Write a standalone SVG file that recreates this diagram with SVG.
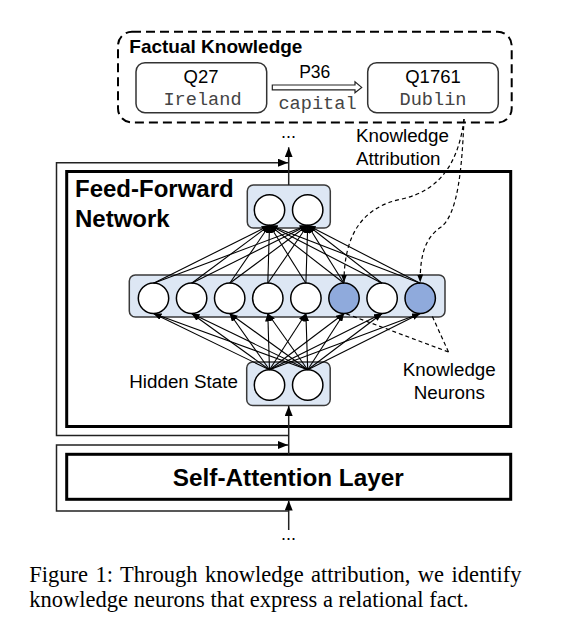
<svg xmlns="http://www.w3.org/2000/svg" width="584" height="637" viewBox="0 0 584 637">
<style>
.sans{font-family:"Liberation Sans",Arial,sans-serif;fill:#000}
.bold{font-weight:bold}
.mono{font-family:"Liberation Mono","Courier New",monospace;fill:#444}
.serif{font-family:"Liberation Serif","Times New Roman",serif;fill:#000}
.box{fill:#fff;stroke:#000;stroke-width:3}
.panel{fill:#dde7f4;stroke:#3a3a3a;stroke-width:1.5}
.neuron{fill:#fff;stroke:#000;stroke-width:1.5}
.kn{fill:#8faadc}
.edge{stroke:#000;stroke-width:1.1;fill:none;marker-end:url(#ah)}
.flow{stroke:#222;stroke-width:1.5;fill:none}
.dash{stroke:#000;stroke-width:1.2;fill:none;stroke-dasharray:4,3}
.ent{fill:#fff;stroke:#333;stroke-width:1.5}
</style>
<defs>
<marker id="ah" markerUnits="userSpaceOnUse" markerWidth="8" markerHeight="6" refX="8" refY="3" orient="auto"><path d="M0,0 L8,3 L0,6 z" fill="#000"/></marker>
<marker id="ah2" markerUnits="userSpaceOnUse" markerWidth="10" markerHeight="8" refX="10" refY="4" orient="auto"><path d="M0,0 L10,4 L0,8 z" fill="#000"/></marker>
</defs>

<g id="factual-knowledge">
<rect x="118" y="31.7" width="393.7" height="90.8" rx="14" fill="none" stroke="#000" stroke-width="2" stroke-dasharray="9,5"/>
<text class="sans bold" x="129.3" y="53.3" font-size="19">Factual Knowledge</text>
</g>
<g id="q27">
<rect class="ent" x="136" y="62.7" width="130.7" height="50" rx="9"/>
<text class="sans" x="201" y="83.3" font-size="18.5" text-anchor="middle">Q27</text>
<text class="mono" x="202.5" y="105" font-size="18.6" text-anchor="middle">Ireland</text>
</g>
<g id="q1761">
<rect class="ent" x="367.7" y="62.7" width="130.6" height="50" rx="9"/>
<text class="sans" x="433" y="83.3" font-size="18.5" text-anchor="middle">Q1761</text>
<text class="mono" x="433" y="105" font-size="18.6" text-anchor="middle">Dublin</text>
</g>
<g id="relation">
<polygon points="272.3,85 355,85 355,81.7 361.7,87.4 355,92.8 355,89.8 272.3,89.8" fill="#fff" stroke="#222" stroke-width="1.2"/>
<text class="sans" x="314.7" y="78.3" font-size="17.5" text-anchor="middle">P36</text>
<text class="mono" x="317.5" y="108.5" font-size="18.6" text-anchor="middle">capital</text>
</g>

<g id="ffn">
<rect class="box" x="66.7" y="171.5" width="444" height="255"/>
<text class="sans bold" x="75" y="196.7" font-size="24">Feed-Forward</text>
<text class="sans bold" x="75" y="226.7" font-size="24">Network</text>
</g>
<g id="self-attention">
<rect class="box" x="66.7" y="454.3" width="444" height="45"/>
<text class="sans bold" x="288.3" y="485.7" font-size="24.3" text-anchor="middle">Self-Attention Layer</text>
</g>

<g id="output-layer">
<rect class="panel" x="247.3" y="185" width="83" height="43" rx="6"/>
<circle class="neuron" cx="269.5" cy="210" r="15.2"/>
<circle class="neuron" cx="307.7" cy="210" r="15.2"/>
</g>
<g id="intermediate-layer">
<rect class="panel" x="129.3" y="275" width="315.7" height="42" rx="6"/>
<circle class="neuron" cx="153.5" cy="298.3" r="15.2"/>
<circle class="neuron" cx="191.6" cy="298.3" r="15.2"/>
<circle class="neuron" cx="229.7" cy="298.3" r="15.2"/>
<circle class="neuron" cx="267.8" cy="298.3" r="15.2"/>
<circle class="neuron" cx="305.9" cy="298.3" r="15.2"/>
<circle class="neuron kn" cx="344" cy="298.3" r="15.2"/>
<circle class="neuron" cx="382.1" cy="298.3" r="15.2"/>
<circle class="neuron kn" cx="420.2" cy="298.3" r="15.2"/>
</g>
<g id="hidden-state">
<rect class="panel" x="246.7" y="362" width="83.5" height="43.5" rx="6"/>
<circle class="neuron" cx="269.5" cy="385" r="15.2"/>
<circle class="neuron" cx="307.7" cy="385" r="15.2"/>
<text class="sans" x="129.3" y="388.3" font-size="18.8">Hidden State</text>
</g>

<g id="labels">
<text class="sans" x="356" y="142.3" font-size="18.8">Knowledge</text>
<text class="sans" x="356" y="165" font-size="18.8">Attribution</text>
<text class="sans" x="449.3" y="376" font-size="18.8" text-anchor="middle">Knowledge</text>
<text class="sans" x="449.3" y="398.7" font-size="18.8" text-anchor="middle">Neurons</text>
<text class="sans" x="288.5" y="138" font-size="18" text-anchor="middle">...</text>
<text class="sans" x="288.5" y="540" font-size="18" text-anchor="middle">...</text>
</g>

<g id="connectors">
<path class="edge" d="M153.5,283.3 L269.5,225.3"/>
<path class="edge" d="M191.6,283.3 L269.5,225.3"/>
<path class="edge" d="M229.7,283.3 L269.5,225.3"/>
<path class="edge" d="M267.8,283.3 L269.5,225.3"/>
<path class="edge" d="M305.9,283.3 L269.5,225.3"/>
<path class="edge" d="M344,283.3 L269.5,225.3"/>
<path class="edge" d="M382.1,283.3 L269.5,225.3"/>
<path class="edge" d="M420.2,283.3 L269.5,225.3"/>
<path class="edge" d="M153.5,283.3 L307.7,225.3"/>
<path class="edge" d="M191.6,283.3 L307.7,225.3"/>
<path class="edge" d="M229.7,283.3 L307.7,225.3"/>
<path class="edge" d="M267.8,283.3 L307.7,225.3"/>
<path class="edge" d="M305.9,283.3 L307.7,225.3"/>
<path class="edge" d="M344,283.3 L307.7,225.3"/>
<path class="edge" d="M382.1,283.3 L307.7,225.3"/>
<path class="edge" d="M420.2,283.3 L307.7,225.3"/>
<path class="edge" d="M269.5,369.8 L153.5,313.5"/>
<path class="edge" d="M269.5,369.8 L191.6,313.5"/>
<path class="edge" d="M269.5,369.8 L229.7,313.5"/>
<path class="edge" d="M269.5,369.8 L267.8,313.5"/>
<path class="edge" d="M269.5,369.8 L305.9,313.5"/>
<path class="edge" d="M269.5,369.8 L344,313.5"/>
<path class="edge" d="M269.5,369.8 L382.1,313.5"/>
<path class="edge" d="M269.5,369.8 L420.2,313.5"/>
<path class="edge" d="M307.7,369.8 L153.5,313.5"/>
<path class="edge" d="M307.7,369.8 L191.6,313.5"/>
<path class="edge" d="M307.7,369.8 L229.7,313.5"/>
<path class="edge" d="M307.7,369.8 L267.8,313.5"/>
<path class="edge" d="M307.7,369.8 L305.9,313.5"/>
<path class="edge" d="M307.7,369.8 L344,313.5"/>
<path class="edge" d="M307.7,369.8 L382.1,313.5"/>
<path class="edge" d="M307.7,369.8 L420.2,313.5"/>
<path class="flow" d="M288.7,530 V500.5" marker-end="url(#ah2)"/>
<path class="flow" d="M288.7,454.3 V406" marker-end="url(#ah2)"/>
<path class="flow" d="M288.7,185 V147.3" marker-end="url(#ah2)"/>
<path class="flow" d="M288.7,435.5 H56.5 V162.7 H288" marker-end="url(#ah2)"/>
<path class="flow" d="M288.7,511 H56.5 V445 H288" marker-end="url(#ah2)"/>
<path class="dash" d="M464,119 C459,160 442,190 402,199 C362,207 344,235 344,282.5" marker-end="url(#ah)"/>
<path class="dash" d="M464,119 C462,168 458,214 441,227 C425,238 420,255 420.2,282.5" marker-end="url(#ah)"/>
<path class="dash" d="M448.5,352 L345,313.3"/>
<path class="dash" d="M448.5,352 L431.7,315"/>
</g>

<g id="caption">
<text class="serif" x="29.3" y="581.7" font-size="22.5" word-spacing="1.8">Figure 1:  Through knowledge attribution, we identify</text>
<text class="serif" x="29.3" y="607" font-size="22.5">knowledge neurons that express a relational fact.</text>
</g>
</svg>
